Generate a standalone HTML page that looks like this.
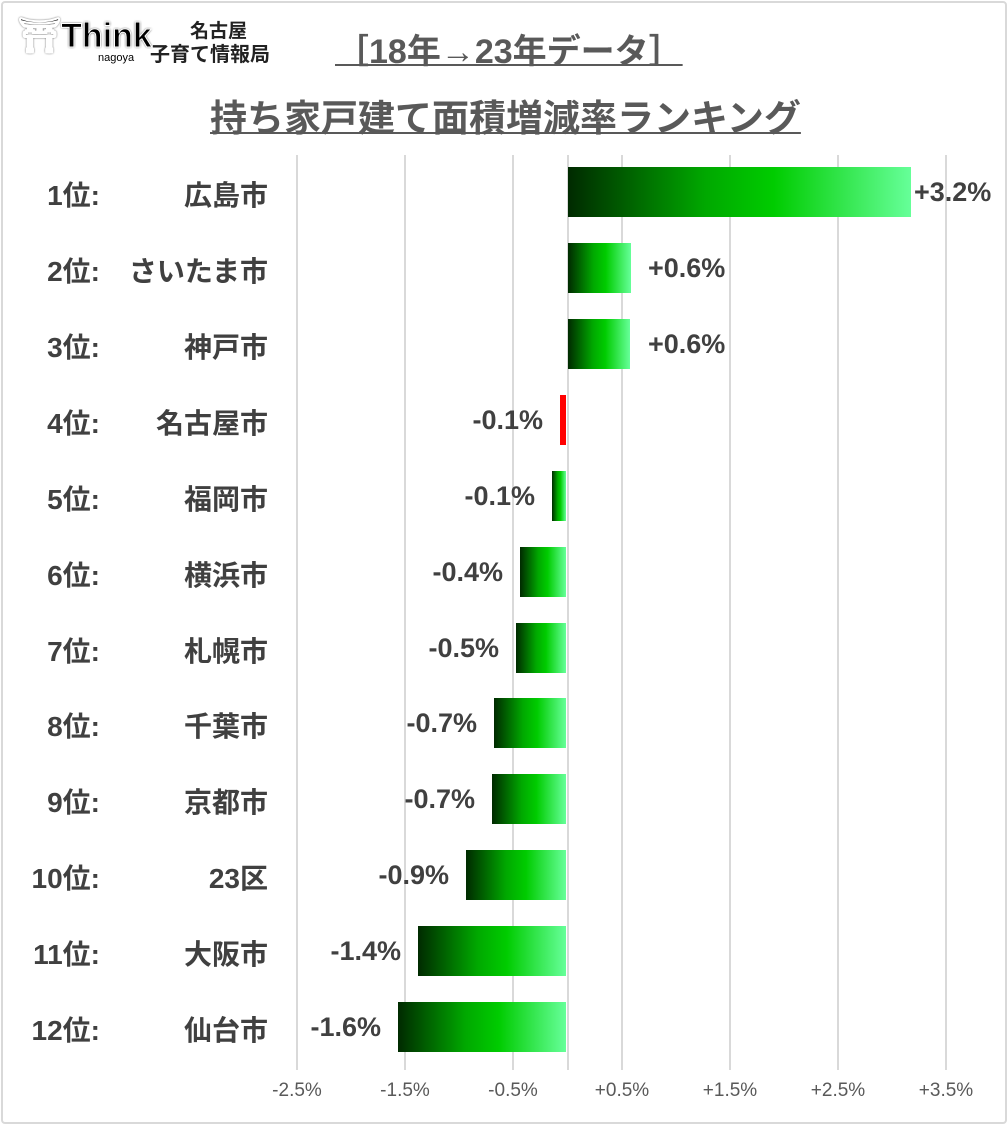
<!DOCTYPE html><html><head><meta charset="utf-8"><style>
body{margin:0;width:1008px;height:1125px;background:#fff;font-family:"Liberation Sans","Noto Sans CJK JP",sans-serif;position:relative;overflow:hidden}
.frame{position:absolute;left:1px;top:1px;width:1002px;height:1119px;border:2px solid #d9d9d9;border-radius:4px}
.g{position:absolute;top:155px;height:915px;width:2px;background:#d9d9d9}
.bar{position:absolute;height:50px;background:linear-gradient(90deg,#002a00 0%,#00a800 40%,#00cc00 60%,#66ff99 100%)}
.lab{position:absolute;font-size:27px;color:#404040;font-weight:bold;line-height:30px}
.rank{position:absolute;left:0;width:100px;text-align:right;font-size:28px;font-weight:bold;color:#404040}
.city{position:absolute;right:740px;font-size:28px;font-weight:bold;color:#404040;text-align:right;white-space:nowrap}
.t{position:absolute;top:1080px;font-size:19px;color:#595959;width:80px;text-align:center}
</style></head><body>
<div class="frame"></div>
<div style="position:absolute;left:18px;top:16px;font-size:34px;color:#000;font-weight:bold;-webkit-text-stroke:1px #fff;text-shadow:0 0 2px #000">⛩Think</div>
<div style="position:absolute;left:98px;top:52px;font-size:11px;color:#000">nagoya</div>
<div style="position:absolute;left:190px;top:16px;font-size:19px;font-weight:bold;color:#222">名古屋</div>
<div style="position:absolute;left:150px;top:38px;font-size:20px;font-weight:bold;color:#222">子育て情報局</div>
<div style="position:absolute;left:335px;top:24px;font-size:34px;font-weight:bold;color:#595959;text-decoration:underline;text-decoration-thickness:2px;white-space:nowrap">［18年→23年データ］</div>
<div style="position:absolute;left:210px;top:88px;font-size:37px;font-weight:bold;color:#595959;text-decoration:underline;text-decoration-thickness:2px;white-space:nowrap">持ち家戸建て面積増減率ランキング</div>
<div class="g" style="left:296px"></div><div class="g" style="left:404px"></div><div class="g" style="left:512px"></div><div class="g" style="left:567px"></div><div class="g" style="left:621px"></div><div class="g" style="left:729px"></div><div class="g" style="left:837px"></div><div class="g" style="left:945px"></div>
<div class="t" style="left:257px">-2.5%</div><div class="t" style="left:365px">-1.5%</div><div class="t" style="left:473px">-0.5%</div><div class="t" style="left:582px">+0.5%</div><div class="t" style="left:690px">+1.5%</div><div class="t" style="left:798px">+2.5%</div><div class="t" style="left:906px">+3.5%</div>

<div class="bar" style="left:568px;width:343px;top:167px"></div><div class="lab" style="left:914px;top:177px">+3.2%</div>
<div class="bar" style="left:568px;width:63px;top:243px"></div><div class="lab" style="left:648px;top:253px">+0.6%</div>
<div class="bar" style="left:568px;width:62px;top:319px"></div><div class="lab" style="left:648px;top:329px">+0.6%</div>
<div class="bar" style="left:560px;width:6px;top:395px;background:#ff0000"></div><div class="lab" style="right:465px;top:405px">-0.1%</div>
<div class="bar" style="left:552px;width:14px;top:471px"></div><div class="lab" style="right:473px;top:481px">-0.1%</div>
<div class="bar" style="left:520px;width:46px;top:547px"></div><div class="lab" style="right:505px;top:557px">-0.4%</div>
<div class="bar" style="left:516px;width:50px;top:623px"></div><div class="lab" style="right:509px;top:633px">-0.5%</div>
<div class="bar" style="left:494px;width:72px;top:698px"></div><div class="lab" style="right:531px;top:708px">-0.7%</div>
<div class="bar" style="left:492px;width:74px;top:774px"></div><div class="lab" style="right:533px;top:784px">-0.7%</div>
<div class="bar" style="left:466px;width:100px;top:850px"></div><div class="lab" style="right:559px;top:860px">-0.9%</div>
<div class="bar" style="left:418px;width:148px;top:926px"></div><div class="lab" style="right:607px;top:936px">-1.4%</div>
<div class="bar" style="left:398px;width:168px;top:1002px"></div><div class="lab" style="right:627px;top:1012px">-1.6%</div>

<div class="rank" style="top:174px">1位:</div><div class="city" style="top:174px">広島市</div>
<div class="rank" style="top:250px">2位:</div><div class="city" style="top:250px">さいたま市</div>
<div class="rank" style="top:326px">3位:</div><div class="city" style="top:326px">神戸市</div>
<div class="rank" style="top:402px">4位:</div><div class="city" style="top:402px">名古屋市</div>
<div class="rank" style="top:478px">5位:</div><div class="city" style="top:478px">福岡市</div>
<div class="rank" style="top:554px">6位:</div><div class="city" style="top:554px">横浜市</div>
<div class="rank" style="top:630px">7位:</div><div class="city" style="top:630px">札幌市</div>
<div class="rank" style="top:705px">8位:</div><div class="city" style="top:705px">千葉市</div>
<div class="rank" style="top:781px">9位:</div><div class="city" style="top:781px">京都市</div>
<div class="rank" style="top:857px">10位:</div><div class="city" style="top:857px">23区</div>
<div class="rank" style="top:933px">11位:</div><div class="city" style="top:933px">大阪市</div>
<div class="rank" style="top:1009px">12位:</div><div class="city" style="top:1009px">仙台市</div>
</body></html>
